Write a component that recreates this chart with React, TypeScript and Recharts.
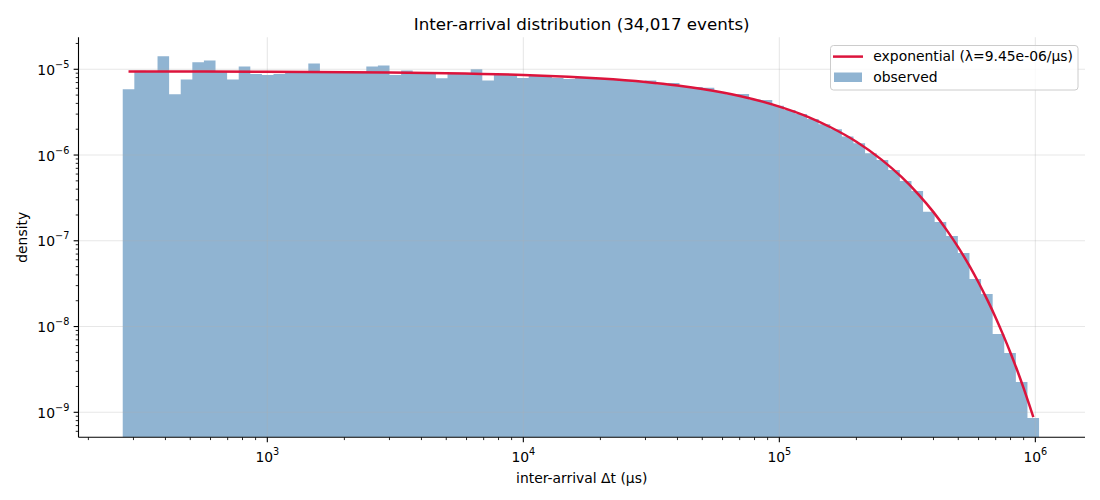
import { ComposedChart, Area, Line, XAxis, YAxis, ReferenceLine, Legend } from "recharts";

const FONT = "DejaVu Sans";
const HIST_COLOR = "steelblue";
const CURVE_COLOR = "#dc143c";

const TITLE = "Inter-arrival distribution (34,017 events)";
const X_LABEL = "inter-arrival Δt (μs)";
const Y_LABEL = "density";
const CURVE_LABEL = "exponential (λ=9.45e-06/μs)";
const HIST_LABEL = "observed";

// histogram: 79 log-spaced bins between these two edges
const BIN_LO = 272.4;
const BIN_HI = 1.034e6;
const OBSERVED = [
  5.85e-6, 9.6e-6, 9.5e-6, 1.42e-5, 5.1e-6, 7.6e-6, 1.21e-5, 1.27e-5, 9.4e-6, 7.6e-6,
  1.08e-5, 8.8e-6, 8.6e-6, 8.8e-6, 9.3e-6, 9.4e-6, 1.17e-5, 9.2e-6, 9.3e-6, 9.2e-6,
  9.35e-6, 1.08e-5, 1.11e-5, 8.6e-6, 9.7e-6, 9.1e-6, 9.0e-6, 7.85e-6, 9.0e-6, 8.9e-6,
  1.0e-5, 7.4e-6, 8.7e-6, 8.65e-6, 7.9e-6, 8.5e-6, 8.35e-6, 7.9e-6, 7.7e-6, 8.0e-6,
  7.85e-6, 7.75e-6, 7.55e-6, 7.35e-6, 7.2e-6, 7.4e-6, 6.7e-6, 6.9e-6, 6.25e-6, 6.2e-6,
  6.1e-6, 5.45e-6, 5.1e-6, 5.15e-6, 4.45e-6, 4.38e-6, 3.75e-6, 3.35e-6, 3.0e-6, 2.63e-6,
  2.29e-6, 2.0e-6, 1.65e-6, 1.37e-6, 1.05e-6, 8.75e-7, 6.7e-7, 4.98e-7, 3.81e-7, 2.18e-7,
  1.66e-7, 1.14e-7, 7.2e-8, 3.58e-8, 2.4e-8, 8.2e-9, 4.92e-9, 2.26e-9, 8.6e-10,
];

// fitted exponential
const FIT_T = [
  287, 1000, 3000, 5000, 10000, 15000, 20000, 30000, 40000, 50000, 70000, 100000,
  130000, 160000, 200000, 250000, 300000, 350000, 400000, 450000, 500000, 550000,
  600000, 650000, 700000, 750000, 800000, 850000, 900000, 950000, 982000,
];
const FIT_DENSITY = [
  9.42e-6, 9.36e-6, 9.19e-6, 9.01e-6, 8.6e-6, 8.2e-6, 7.82e-6, 7.12e-6, 6.48e-6, 5.89e-6,
  4.88e-6, 3.67e-6, 2.77e-6, 2.08e-6, 1.43e-6, 8.9e-7, 5.55e-7, 3.46e-7, 2.16e-7, 1.34e-7,
  8.38e-8, 5.23e-8, 3.26e-8, 2.03e-8, 1.27e-8, 7.89e-9, 4.92e-9, 3.07e-9, 1.91e-9, 1.19e-9,
  8.8e-10,
];

const X_DOMAIN = [183, 1.563e6];
const Y_DOMAIN = [5.11e-10, 2.36e-5];
const X_DECADES = [2, 3, 4, 5, 6];
const Y_DECADES = [-10, -9, -8, -7, -6, -5];
const MANTISSAS = [1, 2, 3, 4, 5, 6, 7, 8, 9];
const X_MAJOR = [1e3, 1e4, 1e5, 1e6];
const Y_MAJOR = [1e-9, 1e-8, 1e-7, 1e-6, 1e-5];

const inside = (v: number, d: number[]) => v >= d[0] && v <= d[1];
const xTicks = X_DECADES.flatMap((e) => MANTISSAS.map((m) => m * 10 ** e)).filter((v) => inside(v, X_DOMAIN));
const yTicks = Y_DECADES.flatMap((e) => MANTISSAS.map((m) => m * 10 ** e)).filter((v) => inside(v, Y_DOMAIN));

const nBins = OBSERVED.length;
const edges = Array.from({ length: nBins + 1 }, (_, i) =>
  10 ** (Math.log10(BIN_LO) + (i * (Math.log10(BIN_HI) - Math.log10(BIN_LO))) / nBins)
);
const histData = edges.map((t, i) => ({ t, observed: OBSERVED[Math.min(i, nBins - 1)] }));
const fitData = FIT_T.map((t, i) => ({ t, fit: FIT_DENSITY[i] }));

const MAJOR_LEN = 4.86;
const MINOR_LEN = 2.78;

function exponent(v: number) {
  const l = Math.log10(v);
  const e = Math.round(l);
  return Math.abs(l - e) < 1e-6 ? e : null;
}

function fmtExp(e: number) {
  return e < 0 ? "\u2212" + Math.abs(e) : String(e);
}

function XTick(props: any) {
  const { x, y, payload } = props;
  const e = exponent(payload.value);
  return (
    <g>
      <line x1={x} x2={x} y1={y} y2={y + (e !== null ? MAJOR_LEN : MINOR_LEN)} stroke="#000" strokeWidth={e !== null ? 1.1 : 0.85} />
      {e !== null && (
        <text x={x} y={y + 24.4} textAnchor="middle" fontFamily={FONT} fontSize={13.9} fill="#000">
          <tspan>10</tspan>
          <tspan dy={-6.5} fontSize={9.7}>{fmtExp(e)}</tspan>
        </text>
      )}
    </g>
  );
}

function YTick(props: any) {
  const { x, y, payload } = props;
  const e = exponent(payload.value);
  return (
    <g>
      <line x1={x} x2={x - (e !== null ? MAJOR_LEN : MINOR_LEN)} y1={y} y2={y} stroke="#000" strokeWidth={e !== null ? 1.1 : 0.85} />
      {e !== null && (
        <text x={x - 9.2} y={y + 5.7} textAnchor="end" fontFamily={FONT} fontSize={13.9} fill="#000">
          <tspan>10</tspan>
          <tspan dy={-7} fontSize={9.7}>{fmtExp(e)}</tspan>
        </text>
      )}
    </g>
  );
}

function LegendBox() {
  return (
    <svg width={249} height={46} style={{ display: "block" }}>
      <rect x={0.5} y={0.5} width={247.5} height={44.5} rx={3} fill="#fff" fillOpacity={0.8} stroke="#cccccc" />
      <line x1={3} x2={33} y1={11.6} y2={11.6} stroke={CURVE_COLOR} strokeWidth={2.5} />
      <text x={43.3} y={15.6} fontFamily={FONT} fontSize={13.9} fill="#000">{CURVE_LABEL}</text>
      <rect x={4} y={27.5} width={28} height={9.5} fill={HIST_COLOR} fillOpacity={0.6} />
      <text x={43.3} y={37} fontFamily={FONT} fontSize={13.9} fill="#000">{HIST_LABEL}</text>
    </svg>
  );
}

export default function App() {
  return (
    <div style={{ position: "absolute", left: 0, top: 0, width: 1100, height: 500, background: "#fff" }}>
      <ComposedChart width={1100} height={500} margin={{ top: 37.3, right: 15, bottom: 0, left: 0 }}>
        <XAxis
          dataKey="t"
          type="number"
          scale="log"
          domain={X_DOMAIN}
          allowDataOverflow
          ticks={xTicks}
          interval={0}
          tick={<XTick />}
          tickLine={false}
          tickSize={0}
          tickMargin={0}
          height={62.7}
          axisLine={{ stroke: "#000", strokeWidth: 1.1 }}
        />
        <YAxis
          type="number"
          scale="log"
          domain={Y_DOMAIN}
          allowDataOverflow
          ticks={yTicks}
          interval={0}
          tick={<YTick />}
          tickLine={false}
          tickSize={0}
          tickMargin={0}
          width={78.5}
          axisLine={{ stroke: "#000", strokeWidth: 1.1 }}
        />
        <Area
          data={histData}
          dataKey="observed"
          name={HIST_LABEL}
          type="stepAfter"
          baseValue={Y_DOMAIN[0]}
          fill={HIST_COLOR}
          fillOpacity={0.6}
          stroke="none"
          isAnimationActive={false}
        />
        {X_MAJOR.map((v) => (
          <ReferenceLine key={"x" + v} x={v} stroke="#b0b0b0" strokeOpacity={0.3} strokeWidth={1.1} />
        ))}
        {Y_MAJOR.map((v) => (
          <ReferenceLine key={"y" + v} y={v} stroke="#b0b0b0" strokeOpacity={0.3} strokeWidth={1.1} />
        ))}
        <Line
          data={fitData}
          dataKey="fit"
          name={CURVE_LABEL}
          type="monotone"
          stroke={CURVE_COLOR}
          strokeWidth={2.5}
          dot={false}
          activeDot={false}
          isAnimationActive={false}
        />
        <Legend
          layout="vertical"
          align="center"
          verticalAlign="middle"
          wrapperStyle={{ left: 830, top: 44.7, width: 249, height: 46 }}
          content={() => <LegendBox />}
        />
      </ComposedChart>
      <svg width={1100} height={500} style={{ position: "absolute", left: 0, top: 0, pointerEvents: "none" }}>
        <text x={581.7} y={29.5} textAnchor="middle" fontFamily={FONT} fontSize={16.7} fill="#000">{TITLE}</text>
        <text x={581.7} y={483} textAnchor="middle" fontFamily={FONT} fontSize={13.9} fill="#000">{X_LABEL}</text>
        <text x={27} y={237.3} transform="rotate(-90 27 237.3)" textAnchor="middle" fontFamily={FONT} fontSize={13.9} fill="#000">{Y_LABEL}</text>
      </svg>
    </div>
  );
}
